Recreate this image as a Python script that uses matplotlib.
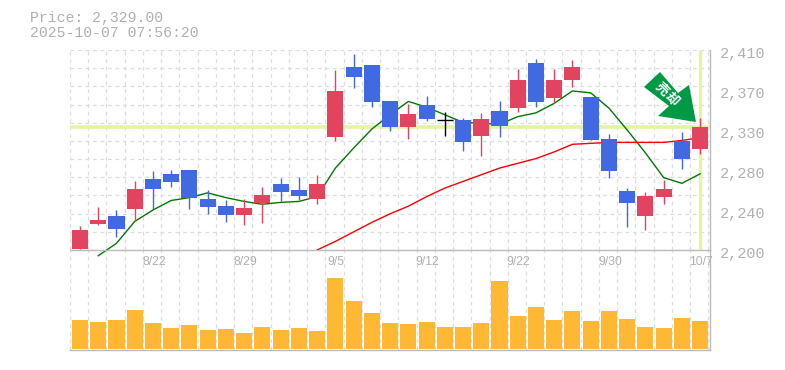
import numpy as np
import matplotlib
matplotlib.use("Agg")
import matplotlib.pyplot as plt
from matplotlib.patches import Polygon

# Candles, oldest first
opens = [2201, 2227, 2236, 2243, 2274.5, 2280, 2284, 2254, 2246, 2237, 2249, 2269, 2263, 2254, 2319, 2392, 2394, 2356,
         2329, 2352, 2336, 2336, 2320, 2346, 2349, 2396, 2360, 2378, 2361, 2317, 2262, 2236, 2256, 2314, 2306]
closes = [2221, 2231.5, 2222, 2264, 2264, 2271, 2255, 2245, 2237, 2244, 2258, 2261, 2257, 2269, 2367, 2382, 2355, 2329,
          2343, 2338, 2336, 2313, 2338, 2330, 2378, 2355, 2378, 2392, 2315.5, 2283, 2249, 2257, 2264, 2296, 2329]
highs = [2225, 2245, 2242, 2272, 2283, 2284, 2284, 2263, 2252, 2254, 2266, 2276, 2277, 2279, 2389, 2406, 2394, 2356,
         2353, 2362, 2345, 2339, 2344, 2356, 2390, 2401, 2390, 2399, 2361, 2322, 2265, 2261, 2274, 2324, 2339]
lows = [2201, 2226, 2214, 2230, 2243, 2266, 2243, 2238, 2229, 2226, 2228, 2251, 2252, 2248, 2314, 2370, 2350, 2325,
        2317, 2335, 2320, 2304, 2299, 2319, 2345, 2350, 2354, 2371, 2315.5, 2276, 2224, 2221, 2248, 2285, 2301]
volumes = [29, 27, 29, 39, 26, 21, 24, 19, 20, 16, 22, 19, 21, 18, 71, 48, 36, 26,
           25, 27, 22, 22, 26, 68, 33, 42, 29, 38, 28, 38, 30, 22, 21, 31, 28]
ma_short = [np.nan, 2194, 2207, 2230, 2242, 2252, 2255, 2260, 2255, 2251, 2248, 2250, 2251, 2256, 2286, 2307, 2327, 2342,
            2356, 2350, 2342, 2334, 2333, 2332, 2340, 2344, 2354, 2367, 2365, 2349, 2326, 2302, 2276, 2270, 2280]
ma_long = [np.nan] * 13 + [2200, 2209, 2219, 2229, 2238, 2246, 2256, 2265, 2272, 2279, 2286, 2291, 2296, 2303, 2311,
                           2312, 2313, 2313, 2313, 2313, 2315, 2318]
date_pos = [4, 9, 14, 19, 24, 29, 34]
date_labels = ["8/22", "8/29", "9/5", "9/12", "9/22", "9/30", "10/7"]
price_labels = ["2,200", "2,240", "2,280", "2,330", "2,370", "2,410"]
last_price = 2329

W, H = 785, 370
RED = "#e24460"
BLUE = "#4169e1"
GRID = "#dddddd"
AXIS = "#bbbbbb"
TEXT = "#b0b0b0"
MONO = "Liberation Mono"


def px_axes(left, top, right, bottom):
    return fig.add_axes([left / W, 1 - bottom / H, (right - left) / W, (bottom - top) / H])


fig = plt.figure(figsize=(W / 100, H / 100), dpi=100)
ax_vol = px_axes(70, 250, 710, 349.5)
ax = px_axes(70, 50, 710, 250)
ax.patch.set_visible(False)
xs = np.arange(len(opens))

for a in (ax, ax_vol):
    a.set_xlim(-0.548, 34.54)
    a.set_axisbelow(True)
    for side in ("top", "left"):
        a.spines[side].set_visible(False)
    for side in ("right", "bottom"):
        a.spines[side].set_color(AXIS)
        a.spines[side].set_linewidth(1.0)
    a.tick_params(length=0)
    a.set_xticks(np.arange(36) - 0.548)
    a.set_xticklabels([])
    a.xaxis.grid(True, color=GRID, lw=0.9, ls=(0, (3, 3)))

ax.set_ylim(2200, 2410)
ax.set_yticks(np.linspace(2200, 2410, 12))
ax.set_yticklabels([])
ax.yaxis.grid(True, color=GRID, lw=0.9, ls=(0, (3, 3)))

# last price guides
ax.axhline(last_price, color="#e2f5a5", lw=2.6, zorder=1.5)
ax.plot([xs[-1], xs[-1]], [2201, 2410], color="#e2f5a5", lw=2.4, zorder=1.5, solid_capstyle="butt")

ax.plot(xs, ma_short, color="#007a00", lw=1.0, zorder=2, clip_on=False)
ax.plot(xs, ma_long, color="#ff0000", lw=1.0, zorder=2)

# candles
for i in xs:
    if opens[i] == closes[i]:
        col = "black"
    elif closes[i] > opens[i]:
        col = RED
    else:
        col = BLUE
    ax.plot([i, i], [lows[i], highs[i]], color=col, lw=1.0, zorder=3, solid_capstyle="butt")
    if col == "black":
        ax.plot([i - 0.44, i + 0.44], [opens[i], opens[i]], color=col, lw=1.0, zorder=3, solid_capstyle="butt")
    else:
        ax.bar(i, abs(closes[i] - opens[i]), 0.88, bottom=min(opens[i], closes[i]), color=col, lw=0, zorder=3)

# volume
ax_vol.bar(xs, volumes, 0.88, color="#ffb833", lw=0, zorder=3, bottom=1)
ax_vol.set_ylim(0, 100)
ax_vol.set_yticks([])

# y labels sit a little under their grid position
for val, txt in zip(np.linspace(2200, 2410, 6), price_labels):
    ax.annotate(txt, xy=(1, val), xycoords=("axes fraction", "data"), xytext=(7.2, -3.0), textcoords="offset points",
                family=MONO, fontsize=11.0, color=TEXT, va="center", ha="left", annotation_clip=False)

for pos, txt in zip(date_pos, date_labels):
    ax.annotate(txt, xy=(pos, 0), xycoords=("data", "axes fraction"), xytext=(0.7, -8.6), textcoords="offset points",
                family="Liberation Sans", fontsize=8.8, color=TEXT, va="center", ha="center", annotation_clip=False)

fig.text(30 / W, 1 - 18 / H, "Price: 2,329.00", family=MONO, fontsize=10.75, color=TEXT, va="center")
fig.text(30 / W, 1 - 33 / H, "2025-10-07 07:56:20", family=MONO, fontsize=10.75, color=TEXT, va="center")

# green arrow badge, in pixels
badge = [(644, 87), (660, 72), (678, 93), (689, 85), (696, 122), (658, 116), (669, 106)]
fig.add_artist(Polygon([(x / W, 1 - y / H) for x, y in badge], closed=True, transform=fig.transFigure,
                       facecolor="#009944", edgecolor="none", zorder=5))
badge_font = ["Noto Sans CJK JP", "DejaVu Sans"]
fig.text(662 / W, 1 - 89 / H, "売", family=badge_font, fontsize=9.5, weight="bold", color="white", rotation=-45,
         ha="center", va="center", zorder=6)
fig.text(672 / W, 1 - 99.5 / H, "却", family=badge_font, fontsize=9.5, weight="bold", color="white", rotation=-45,
         ha="center", va="center", zorder=6)

fig.savefig("out.png", dpi=100)
